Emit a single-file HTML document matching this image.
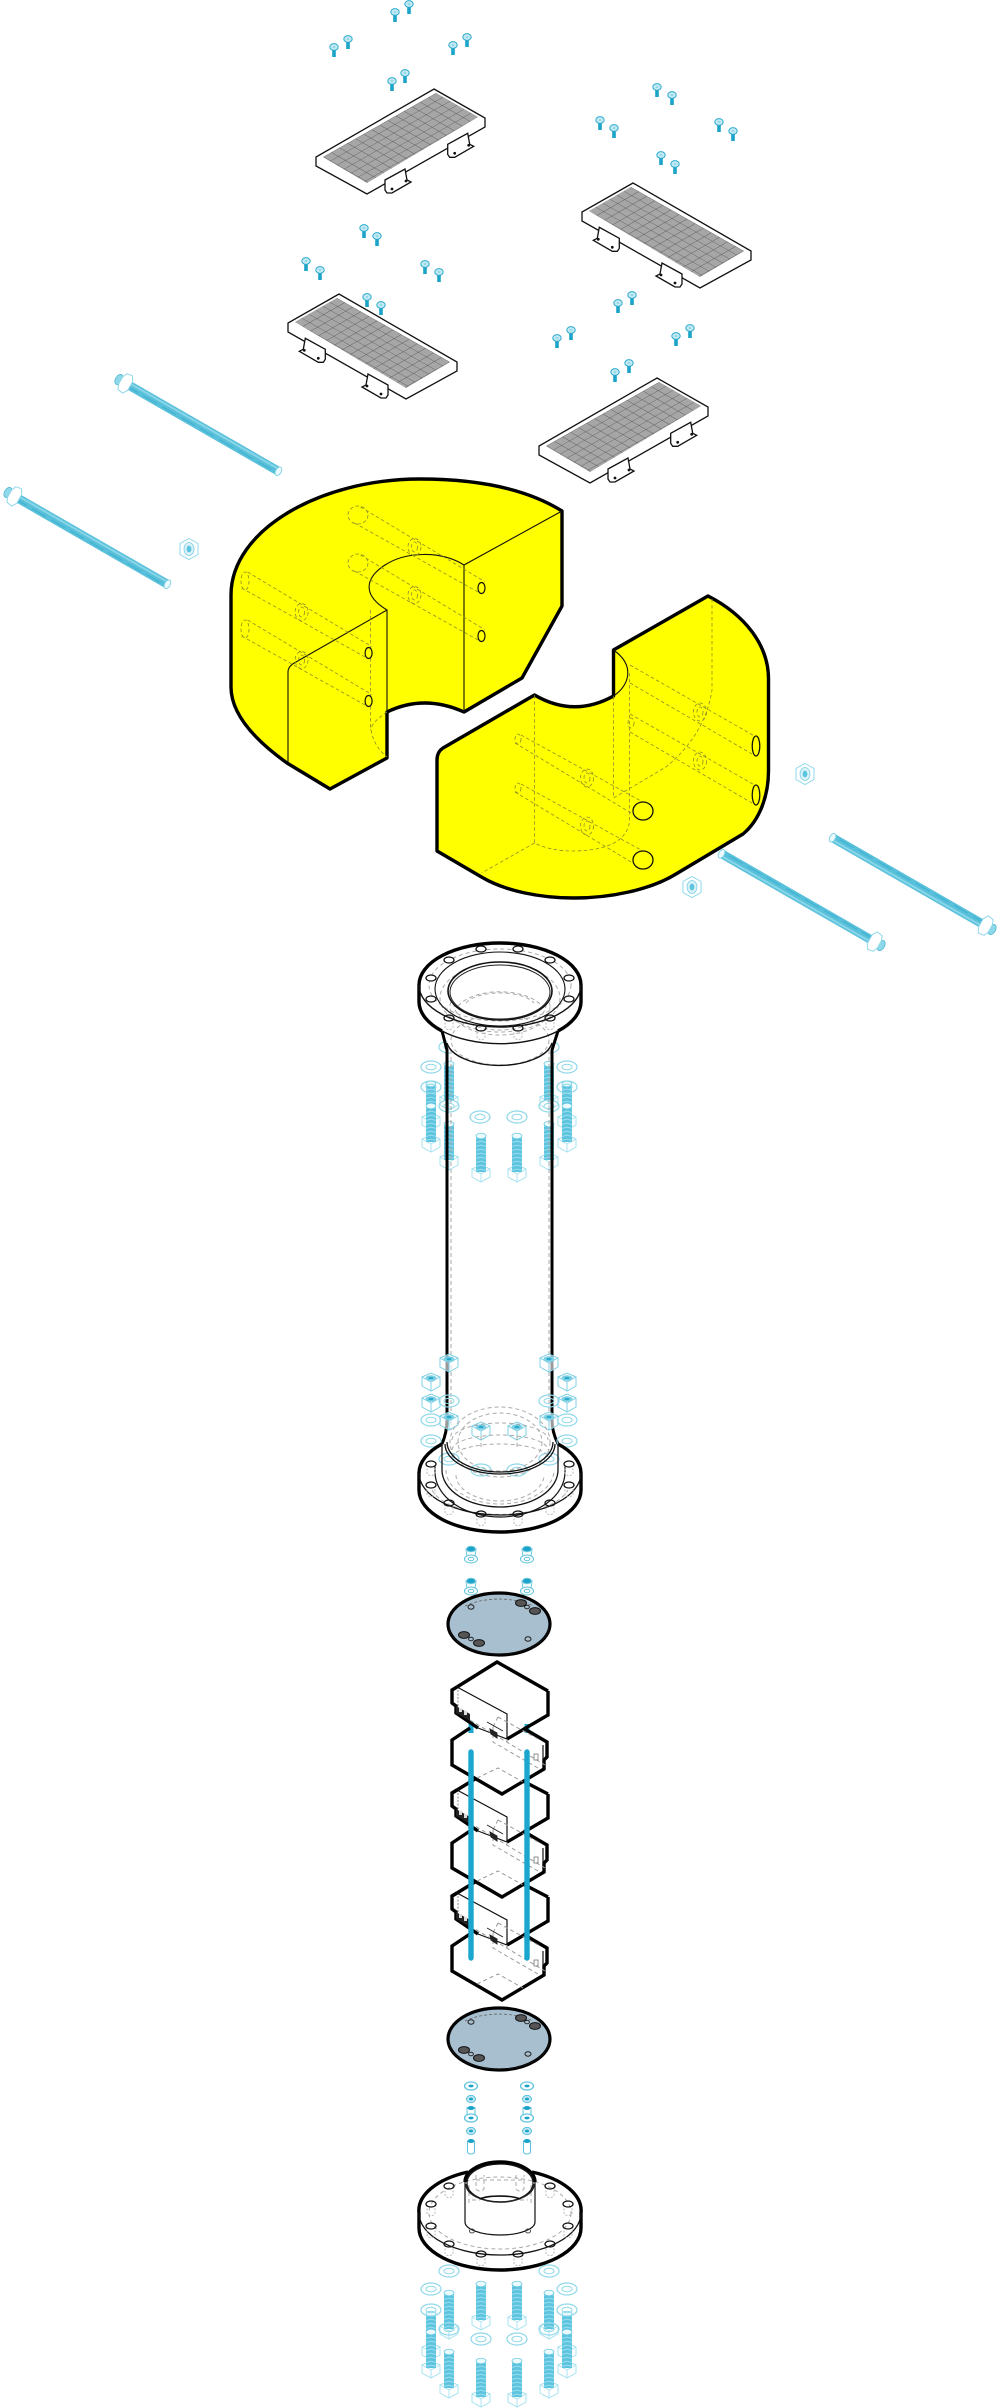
<!DOCTYPE html>
<html><head><meta charset="utf-8"><title>Exploded assembly diagram</title>
<style>html,body{margin:0;padding:0;background:#fff}svg{display:block}</style></head>
<body>
<svg xmlns="http://www.w3.org/2000/svg" width="1000" height="2408" viewBox="0 0 1000 2408">
<defs>
<pattern id="grid" patternUnits="userSpaceOnUse" width="10" height="10" patternTransform="matrix(.807 -.457 .7 .4 323 157)">
<rect width="10" height="10" fill="#a6a6a6"/><path d="M0 0H10M0 0V10" stroke="#4a4a4a" stroke-width=".9" fill="none"/>
</pattern>
<pattern id="thr" patternUnits="userSpaceOnUse" width="10" height="4">
<rect width="10" height="4" fill="#5cc4de"/><path d="M0 1Q5 3.4 10 1" stroke="#a6e2ef" stroke-width=".8" fill="none"/>
</pattern>
<g id="screw"><rect x="-1.8" y="1" width="3.6" height="9" fill="#1ba3c8"/><ellipse rx="4.2" ry="3.4" fill="#c4e9f3" stroke="#2aaacd" stroke-width="1"/><ellipse rx="1.4" ry="1" fill="#8fd8e9"/></g>
<g id="panel">
<path d="M434 89L485 118V127L367 194L316 166V157Z" fill="#fff" stroke="#111" stroke-width="1.3"/>
<path d="M436 93L478 117L367 183L323 157Z" fill="url(#grid)"/>
<g id="br"><path d="M385 180L405 169L407 180L411 182L392 193L387 193L385 190Z" fill="#fff" stroke="#111" stroke-width="1.3"/><circle cx="392" cy="189" r="1.4" fill="#111"/><circle cx="406" cy="181" r="1.4" fill="#111"/></g>
<use href="#br" x="62.7" y="-35.7"/>
</g>
<g id="washer"><ellipse rx="10" ry="6" fill="none" stroke="#8fd8e9" stroke-width="1.2"/><ellipse rx="5" ry="2.8" fill="none" stroke="#8fd8e9" stroke-width="1"/></g>
<g id="bolt">
<path d="M-9 -3L0 -7L9 -3V5L0 10L-9 5Z" fill="#fff" fill-opacity=".5" stroke="#a6e2ef" stroke-width="1"/>
<path d="M-9 -3L0 2L9 -3M0 2V10" fill="none" stroke="#a6e2ef" stroke-width=".9"/>
<rect x="-5" y="-36" width="10" height="36" fill="url(#thr)"/>
<ellipse cy="-36" rx="5" ry="2.8" fill="#eafafd" stroke="#5cc4de" stroke-width=".7"/>
</g>
<g id="nut"><path d="M-9 -5L0 -9L9 -5V4L0 9L-9 4ZM-9 -5L0 0L9 -5M0 0V9" fill="#fff" fill-opacity=".6" stroke="#7fd0e4" stroke-width="1"/><ellipse cy="-4" rx="5.5" ry="2.8" fill="#7fd0e4"/><ellipse cy="-4" rx="2.5" ry="1.3" fill="#2aaacd"/></g>
<g id="small"><path d="M-5 -6L-4 2H4L5 -6Z" fill="#fff" stroke="#6fc8e0"/><ellipse cy="-6" rx="4.5" ry="2.8" fill="#1ba3c8" stroke="#6fc8e0"/><ellipse cy="4" rx="6.5" ry="4" fill="#fff" stroke="#5cc2dd"/><ellipse cy="4" rx="2.8" ry="1.7" fill="none" stroke="#5cc2dd"/></g>
<g id="snut"><ellipse rx="4.5" ry="3.6" fill="#bfe7f1" stroke="#5cc2dd"/><ellipse rx="2" ry="1.4" fill="#1ba3c8"/></g>
<g id="swash"><ellipse rx="6.5" ry="4" fill="#fff" stroke="#5cc2dd" stroke-width="1.2"/><ellipse rx="2.5" ry="1.4" fill="#1ba3c8"/></g>
<g id="fnut"><path d="M0 -10.5L9 -5.5V5.5L0 10.5L-9 5.5V-5.5Z" fill="#fff" stroke="#8fd8e9"/><ellipse rx="5" ry="6.5" fill="#d8f2f8" stroke="#7fd0e4" stroke-width=".8"/><ellipse rx="2.4" ry="3.4" fill="#5cc4de"/></g>
<g id="hole"><ellipse rx="5" ry="3" fill="#fff" stroke="#111" stroke-width="1.3"/></g>
<g id="hd"><path d="M-4 1V9A4 2.5 0 0 0 4 9V1" fill="none" stroke="#aaa" stroke-width=".8" stroke-dasharray="2 1.5"/><ellipse rx="5" ry="3" fill="none" stroke="#111" stroke-width="1.3"/></g>
<g id="module">
<path d="M457 1687L452 1690V1703L456 1706V1713L478 1728M507 1739L548 1715V1691M470 1728L452 1740V1765L502 1794L544 1769V1760L547 1757V1742L523 1728" fill="none" stroke="#000" stroke-width="3.4" stroke-linejoin="miter"/>
<path d="M457 1687L507 1714V1739L478 1728M543 1745V1766" fill="none" stroke="#111" stroke-width="1.2"/>
<path d="M477 1778L498 1768L523 1782M470 1720L545 1765M493 1727V1742L538 1768M498 1717L540 1740M498 1717L493 1727M507 1739V1742" fill="none" stroke="#999" stroke-width="1" stroke-dasharray="4 3"/>
<path d="M458 1690V1712" fill="none" stroke="#888" stroke-width="1" stroke-dasharray="2 1.5"/>
<path d="M456 1706L470 1714V1721L456 1713Z" fill="#222"/><rect x="459" y="1708" width="3" height="4" fill="#ddd"/><rect x="464" y="1711" width="3" height="4" fill="#ddd"/>
<path d="M487 1722L503 1731M490 1729L497 1733V1738L491 1734Z" fill="#222" stroke="#222" stroke-width="1"/>
<rect x="534" y="1754" width="4" height="6" fill="none" stroke="#777" stroke-width=".8"/>
</g>
<g id="disc">
<ellipse cx="499" cy="1624" rx="51" ry="31" fill="#a7bfcf" stroke="#000" stroke-width="3.2"/>
<path d="M449 1626A50 28 0 0 0 549 1626" fill="none" stroke="#111" stroke-width="1"/>
<path d="M465 1606A50 26 0 0 1 533 1606" fill="none" stroke="#666" stroke-width=".8" stroke-dasharray="3 2"/>
<ellipse cx="471" cy="1607" rx="3" ry="2.2" fill="#a7bfcf" stroke="#222"/>
<ellipse cx="528" cy="1639" rx="3" ry="2.2" fill="#a7bfcf" stroke="#222"/>
<ellipse cx="527" cy="1607" rx="2.4" ry="1.8" fill="#a7bfcf" stroke="#222"/>
<ellipse cx="471" cy="1639" rx="2.4" ry="1.8" fill="#a7bfcf" stroke="#222"/>
<ellipse cx="521" cy="1603" rx="5.5" ry="3.4" fill="#555" stroke="#111"/>
<ellipse cx="535" cy="1611" rx="5.5" ry="3.4" fill="#555" stroke="#111"/>
<ellipse cx="464" cy="1635" rx="5.5" ry="3.4" fill="#555" stroke="#111"/>
<ellipse cx="479" cy="1643" rx="5.5" ry="3.4" fill="#555" stroke="#111"/>
</g>
<g id="rod">
<rect x="-7" y="-4.5" width="7" height="9" fill="#8fd8e9"/>
<ellipse cx="-7" rx="3.5" ry="5.5" fill="#8fd8e9" stroke="#4fb7d3" stroke-width=".8"/>
<line x1="0" y1="0" x2="177" y2="0" stroke="#58c0da" stroke-width="9"/>
<line x1="0" y1="-2" x2="177" y2="-2" stroke="#88d5e8" stroke-width="2"/>
<line x1="0" y1="2" x2="177" y2="2" stroke="#3fb0ce" stroke-width="1" stroke-dasharray="16 6"/>
<ellipse cx="177" rx="2.8" ry="4.7" fill="#eafafd" stroke="#7fd0e4" stroke-width=".9"/>
<path d="M-3 -9L3 -10L6 -5V5L3 10L-3 9L-5 4V-4Z" fill="#fff" stroke="#8fd8e9" stroke-width="1"/>
</g>
<g id="cyl" fill="none" stroke="#8e8e28" stroke-width=".8" stroke-dasharray="3.5 2.5">
<path d="M-121 -81L3 -6.5M-127 -65L-3.5 4"/>
<ellipse cx="-67" cy="-41" rx="6.5" ry="8.5"/><ellipse cx="-67" cy="-41" rx="3" ry="5"/>
</g>
</defs>

<rect width="1000" height="2408" fill="#fff"/>

<!-- screws -->
<use href="#screw" x="395" y="12"/><use href="#screw" x="409" y="4"/><use href="#screw" x="334" y="47"/><use href="#screw" x="348" y="39"/><use href="#screw" x="453" y="45"/><use href="#screw" x="467" y="37"/><use href="#screw" x="392" y="81"/><use href="#screw" x="405" y="73"/>
<use href="#screw" x="657" y="87"/><use href="#screw" x="672" y="95"/><use href="#screw" x="600" y="120"/><use href="#screw" x="614" y="128"/><use href="#screw" x="719" y="122"/><use href="#screw" x="733" y="131"/><use href="#screw" x="661" y="155"/><use href="#screw" x="675" y="164"/>
<use href="#screw" x="364" y="228"/><use href="#screw" x="377" y="236"/><use href="#screw" x="306" y="261"/><use href="#screw" x="320" y="270"/><use href="#screw" x="425" y="264"/><use href="#screw" x="439" y="272"/><use href="#screw" x="367" y="297"/><use href="#screw" x="381" y="305"/>
<use href="#screw" x="632" y="295"/><use href="#screw" x="618" y="303"/><use href="#screw" x="571" y="330"/><use href="#screw" x="557" y="338"/><use href="#screw" x="690" y="328"/><use href="#screw" x="676" y="336"/><use href="#screw" x="629" y="363"/><use href="#screw" x="615" y="372"/>

<!-- panels -->
<use href="#panel"/>
<use href="#panel" transform="translate(1067 94) scale(-1 1)"/>
<use href="#panel" transform="translate(773 205) scale(-1 1)"/>
<use href="#panel" transform="translate(223 289)"/>

<!-- rods -->
<use href="#rod" transform="translate(125 383) rotate(29.9)"/>
<use href="#rod" transform="translate(14 496) rotate(29.9)"/>
<use href="#rod" transform="translate(875 942) rotate(209.9)"/>
<use href="#rod" transform="translate(986 926) rotate(209.9)"/>
<use href="#fnut" x="189" y="549"/>
<use href="#fnut" x="805" y="774"/>
<use href="#fnut" x="692" y="887"/>

<!-- yellow left -->
<path d="M562 511V606L522 678L464 712Q424 694 387 712V758L330 789L287 763C252 738 231 712 231 687V595C231 530 320 479 420 479C475 479 525 488 562 511Z" fill="#ff0" stroke="#000" stroke-width="3.4" stroke-linejoin="round"/>
<path d="M562 511L464 565V712M464 565C440 550 405 552 385 565C365 578 362 595 387 610V712M387 610L296 662Q288 666 288 672V763" fill="none" stroke="#111" stroke-width="1.1"/>
<use href="#cyl" x="481.5" y="588"/><use href="#cyl" x="481.5" y="636"/><use href="#cyl" x="368.6" y="653"/><use href="#cyl" x="368.6" y="701"/>
<g fill="none" stroke="#8e8e28" stroke-width=".8" stroke-dasharray="3.5 2.5">
<ellipse cx="358" cy="515" rx="10" ry="9"/><ellipse cx="358" cy="563" rx="10" ry="9"/>
<ellipse cx="245" cy="581" rx="4" ry="9"/><ellipse cx="245" cy="629" rx="4" ry="9"/>
<path d="M370.5 610V725Q372 745 387 757M387 712Q372 722 370.5 730"/>
</g>
<g fill="#ff0" stroke="#111" stroke-width="1.2">
<ellipse cx="481.5" cy="588" rx="3.5" ry="5.5"/><ellipse cx="481.5" cy="636" rx="3.5" ry="5.5"/><ellipse cx="368.6" cy="653" rx="3.5" ry="5.5"/><ellipse cx="368.6" cy="701" rx="3.5" ry="5.5"/>
</g>

<!-- yellow right -->
<path d="M708 596L613.5 650V696Q574 718 534.5 695L443 748Q437 752 437 760V851L481.5 877C505 891 540 898 574 898C610 898 650 890 676 874L743 834C760 820 768.5 795 768.5 771V679C768.5 645 745 615 708 596Z" fill="#ff0" stroke="#000" stroke-width="3.4" stroke-linejoin="round"/>
<path d="M613.5 650C635 665 630 685 613.5 696" fill="none" stroke="#111" stroke-width="1.1"/>
<g fill="none" stroke="#8e8e28" stroke-width=".8" stroke-dasharray="3.5 2.5">
<path d="M521 735L650 806M515 743L636 816M521 784L650 855M515 792L636 865"/>
<path d="M630 665L758 738M630 683L752 754M630 714L758 787M630 732L752 803"/>
<ellipse cx="518" cy="739" rx="3" ry="5"/><ellipse cx="518" cy="788" rx="3" ry="5"/>
<ellipse cx="631" cy="723" rx="3" ry="5"/>
<ellipse cx="587" cy="778" rx="6.5" ry="9"/><ellipse cx="587" cy="778" rx="3" ry="5"/>
<ellipse cx="587" cy="826" rx="6.5" ry="9"/><ellipse cx="587" cy="826" rx="3" ry="5"/>
<ellipse cx="700" cy="712" rx="6.5" ry="9"/><ellipse cx="700" cy="712" rx="3" ry="5"/>
<ellipse cx="700" cy="761" rx="6.5" ry="9"/><ellipse cx="700" cy="761" rx="3" ry="5"/>
<path d="M712 599V690Q705 735 666 767L613.5 798V696M629.5 673V822Q625 850 574 851Q550 851 534.5 843V695M534.5 843L481.5 873"/>
</g>
<g fill="#ff0" stroke="#111" stroke-width="1.3">
<ellipse cx="643" cy="811" rx="10" ry="9"/><ellipse cx="643" cy="860" rx="10" ry="9"/>
<ellipse cx="756" cy="746" rx="3.8" ry="10"/><ellipse cx="756" cy="795" rx="3.8" ry="10"/>
</g>

<!-- top bolts & washers -->
<use href="#washer" x="449" y="1047"/><use href="#washer" x="549" y="1047"/>
<use href="#washer" x="431" y="1067"/><use href="#washer" x="567" y="1067"/>
<use href="#bolt" x="449" y="1100"/><use href="#bolt" x="549" y="1100"/>
<use href="#bolt" x="431" y="1120"/><use href="#bolt" x="567" y="1120"/>
<use href="#washer" x="431" y="1087"/><use href="#washer" x="567" y="1087"/>
<use href="#bolt" x="431" y="1142"/><use href="#bolt" x="567" y="1142"/>
<use href="#washer" x="449" y="1106"/><use href="#washer" x="549" y="1106"/>
<use href="#washer" x="480" y="1117"/><use href="#washer" x="517" y="1117"/>
<use href="#bolt" x="449" y="1160"/><use href="#bolt" x="549" y="1160"/>
<use href="#bolt" x="481" y="1172"/><use href="#bolt" x="517" y="1172"/>

<!-- pipe top flange -->
<ellipse cx="500" cy="1002" rx="81" ry="42" fill="#fff"/>
<rect x="419" y="985" width="162" height="17" fill="#fff"/>
<path d="M447 1030V1045A53 24 0 0 0 553 1045V1030Z" fill="#fff"/>
<ellipse cx="500" cy="985" rx="81" ry="42" fill="#fff"/>
<g fill="none" stroke="#aaa" stroke-width="1" stroke-dasharray="4 3">
<ellipse cx="500" cy="1004" rx="46" ry="26"/>
<ellipse cx="500" cy="1007" rx="50" ry="28"/>
<ellipse cx="500" cy="1040" rx="49" ry="25"/>
<ellipse cx="500" cy="985" rx="71" ry="36"/>
<ellipse cx="500" cy="998" rx="60" ry="34"/>
<path d="M451 1050V1430M549 1050V1430"/>
</g>
<path d="M442 1031L447 1050V1420Q447 1432 442 1444M558 1031L552 1050V1420Q552 1432 558 1444" fill="none" stroke="#000" stroke-width="3"/>
<path d="M442 1031A81 42 0 0 1 419 1002V985A81 42 0 0 1 581 985V1002A81 42 0 0 1 558 1031" fill="none" stroke="#000" stroke-width="3.4"/>
<path d="M419 985A81 42 0 0 0 581 985M442 1031A81 42 0 0 0 558 1031M447 1043A53 26 0 0 0 552 1043" fill="none" stroke="#111" stroke-width="1.4"/>
<ellipse cx="500" cy="989" rx="65" ry="37" fill="none" stroke="#111" stroke-width="1.1"/>
<ellipse cx="500" cy="991" rx="52" ry="29" fill="#fff" stroke="#111" stroke-width="1.6"/>
<ellipse cx="500" cy="992" rx="50" ry="27" fill="#fff" stroke="#222" stroke-width="1"/>
<path d="M458 1006A46 24 0 0 1 542 1006" fill="none" stroke="#aaa" stroke-width="1" stroke-dasharray="4 3"/>
<path d="M466 1003A36 15 0 0 1 534 1003" fill="none" stroke="#aaa" stroke-width="1" stroke-dasharray="4 3"/>
<use href="#hd" x="481" y="1028"/><use href="#hd" x="518" y="1028"/><use href="#hd" x="449" y="1018"/><use href="#hd" x="550" y="1018"/>
<use href="#hole" x="481" y="949"/><use href="#hole" x="518" y="949"/><use href="#hole" x="449" y="960"/><use href="#hole" x="550" y="960"/><use href="#hole" x="431" y="978"/><use href="#hole" x="569" y="978"/><use href="#hole" x="431" y="999"/><use href="#hole" x="569" y="999"/>

<!-- bottom nuts & washers -->
<use href="#nut" x="449" y="1363"/><use href="#nut" x="549" y="1363"/>
<use href="#nut" x="431" y="1382"/><use href="#nut" x="567" y="1382"/>
<use href="#nut" x="431" y="1403"/><use href="#nut" x="567" y="1403"/>
<use href="#washer" x="449" y="1401"/><use href="#washer" x="549" y="1401"/>
<use href="#washer" x="431" y="1420"/><use href="#washer" x="567" y="1420"/>
<use href="#washer" x="431" y="1441"/><use href="#washer" x="567" y="1441"/>
<use href="#nut" x="449" y="1421"/><use href="#nut" x="549" y="1421"/>
<use href="#nut" x="481" y="1431"/><use href="#nut" x="517" y="1431"/>
<use href="#washer" x="449" y="1459"/><use href="#washer" x="549" y="1459"/>
<use href="#washer" x="481" y="1470"/><use href="#washer" x="517" y="1470"/>

<!-- bottom flange -->
<g fill="none" stroke="#aaa" stroke-width="1" stroke-dasharray="4 3">
<ellipse cx="500" cy="1442" rx="50" ry="35"/><ellipse cx="500" cy="1442" rx="42" ry="29"/>
<path d="M452 1440A48 17 0 0 1 548 1440M452 1450A48 15 0 0 1 548 1450M452 1458A48 14 0 0 1 548 1458M456 1475A44 26 0 0 0 544 1475M446 1470A54 34 0 0 0 554 1470"/>
<path d="M420 1475V1490M580 1475V1490M481 1436V1450M517 1436V1450"/>
<path d="M432 1490A70 32 0 0 0 568 1490"/>
</g>
<path d="M442 1444A81 42 0 0 0 419 1473V1490A81 42 0 0 0 581 1490V1473A81 42 0 0 0 558 1444" fill="none" stroke="#000" stroke-width="3.4"/>
<path d="M419 1473A81 42 0 0 0 581 1473" fill="none" stroke="#111" stroke-width="1.3"/>
<path d="M447 1442A53 30 0 0 0 553 1442M445 1444A55 30 0 0 0 555 1444" fill="none" stroke="#111" stroke-width="1.3"/>
<path d="M442 1444V1470A58 37 0 0 0 558 1470V1444" fill="none" stroke="#111" stroke-width="1.3"/>
<path d="M435 1466V1472A65 45 0 0 0 565 1472V1466" fill="none" stroke="#111" stroke-width="1.2"/>
<use href="#hd" x="431" y="1464"/><use href="#hd" x="569" y="1464"/><use href="#hd" x="431" y="1485"/><use href="#hd" x="569" y="1485"/><use href="#hd" x="449" y="1503"/><use href="#hd" x="550" y="1503"/><use href="#hd" x="481" y="1514"/><use href="#hd" x="518" y="1514"/>

<!-- small fasteners -->
<use href="#small" x="471" y="1555"/><use href="#small" x="527" y="1555"/><use href="#small" x="471" y="1587"/><use href="#small" x="527" y="1587"/>

<!-- disc 1 -->
<use href="#disc"/>

<!-- stack -->
<path d="M471 1722V1733M527 1724V1733" stroke="#1ba6cf" stroke-width="5" fill="none"/>
<use href="#module"/>
<use href="#module" y="103"/>
<use href="#module" y="206"/>
<path d="M457 1687L497 1662L548 1691" fill="none" stroke="#000" stroke-width="3.4"/>
<path d="M457 1790L475 1779M523 1781L548 1794M457 1893L475 1882M523 1884L548 1897" fill="none" stroke="#000" stroke-width="3.4"/>
<path d="M471 1752V1958M527 1752V1958" stroke="#1ba6cf" stroke-width="5.4" fill="none" stroke-linecap="round"/>
<path d="M457 1790L452 1793M457 1893L452 1896" fill="none" stroke="#000" stroke-width="3.4"/>

<!-- disc 2 -->
<use href="#disc" y="415"/>

<!-- bottom small stack -->
<use href="#swash" x="471" y="2086"/><use href="#swash" x="527" y="2086"/>
<use href="#snut" x="471" y="2099"/><use href="#snut" x="527" y="2099"/>
<path d="M467 2107V2115H475V2107" fill="#fff" stroke="#5cc2dd"/><path d="M523 2107V2115H531V2107" fill="#fff" stroke="#5cc2dd"/>
<ellipse cx="471" cy="2108" rx="3.5" ry="2" fill="#1ba3c8"/><ellipse cx="527" cy="2108" rx="3.5" ry="2" fill="#1ba3c8"/>
<use href="#swash" x="471" y="2118"/><use href="#swash" x="527" y="2118"/>
<use href="#snut" x="471" y="2131"/><use href="#snut" x="527" y="2131"/>
<path d="M467.5 2141V2152A3.5 2 0 0 0 474.5 2152V2141" fill="#fff" stroke="#5cc2dd"/><path d="M523.5 2141V2152A3.5 2 0 0 0 530.5 2152V2141" fill="#fff" stroke="#5cc2dd"/>
<ellipse cx="471" cy="2141" rx="3.5" ry="2" fill="#1ba3c8"/><ellipse cx="527" cy="2141" rx="3.5" ry="2" fill="#1ba3c8"/>

<!-- bottom plate with neck -->
<g fill="none" stroke="#aaa" stroke-width="1" stroke-dasharray="4 3">
<ellipse cx="500" cy="2213" rx="71" ry="36"/>
<path d="M476 2175V2188A4 3 0 0 0 484 2188V2175M516 2175V2188A4 3 0 0 0 524 2188V2175M476 2180H524"/>
<path d="M469 2185V2205M531 2185V2205M472 2200H480M520 2200H528"/>
</g>
<path d="M468 2172A81 42 0 0 0 419 2213V2228A81 42 0 0 0 581 2228V2213A81 42 0 0 0 532 2172" fill="none" stroke="#000" stroke-width="3.4"/>
<path d="M419 2213A81 42 0 0 0 581 2213" fill="none" stroke="#111" stroke-width="1.3"/>
<path d="M465 2182A35 20 0 0 1 535 2182" fill="none" stroke="#000" stroke-width="3.4"/>
<ellipse cx="500" cy="2183" rx="33" ry="19" fill="none" stroke="#111" stroke-width="1.2"/>
<path d="M466 2184A34 18 0 0 0 534 2184" fill="none" stroke="#222" stroke-width="1.6"/>
<path d="M480 2199A22 5 0 0 1 520 2199" fill="none" stroke="#111" stroke-width="1.6"/>
<path d="M465 2182V2222A35 13 0 0 0 535 2222V2182" fill="none" stroke="#111" stroke-width="1.2"/>
<use href="#hd" x="449" y="2186"/><use href="#hd" x="550" y="2186"/><use href="#hd" x="431" y="2204"/><use href="#hd" x="568" y="2204"/><use href="#hd" x="431" y="2226"/><use href="#hd" x="568" y="2226"/><use href="#hd" x="449" y="2244"/><use href="#hd" x="550" y="2244"/><use href="#hd" x="481" y="2254"/><use href="#hd" x="518" y="2254"/>
<ellipse cx="472" cy="2231" rx="2.5" ry="2" fill="none" stroke="#444"/><ellipse cx="528" cy="2231" rx="2.5" ry="2" fill="none" stroke="#444"/>

<!-- lower bolts -->
<use href="#washer" x="449" y="2271"/><use href="#washer" x="549" y="2271"/>
<use href="#washer" x="431" y="2289"/><use href="#washer" x="567" y="2289"/>
<use href="#bolt" x="481" y="2320"/><use href="#bolt" x="517" y="2320"/>
<use href="#bolt" x="449" y="2329"/><use href="#bolt" x="549" y="2329"/>
<use href="#washer" x="449" y="2329"/><use href="#washer" x="549" y="2329"/>
<use href="#bolt" x="431" y="2350"/><use href="#bolt" x="567" y="2350"/>
<use href="#washer" x="431" y="2310"/><use href="#washer" x="567" y="2310"/>
<use href="#washer" x="481" y="2339"/><use href="#washer" x="517" y="2339"/>
<use href="#bolt" x="431" y="2368"/><use href="#bolt" x="567" y="2368"/>
<use href="#bolt" x="449" y="2388"/><use href="#bolt" x="549" y="2388"/>
<use href="#bolt" x="481" y="2397"/><use href="#bolt" x="517" y="2397"/>
</svg>
</body></html>
